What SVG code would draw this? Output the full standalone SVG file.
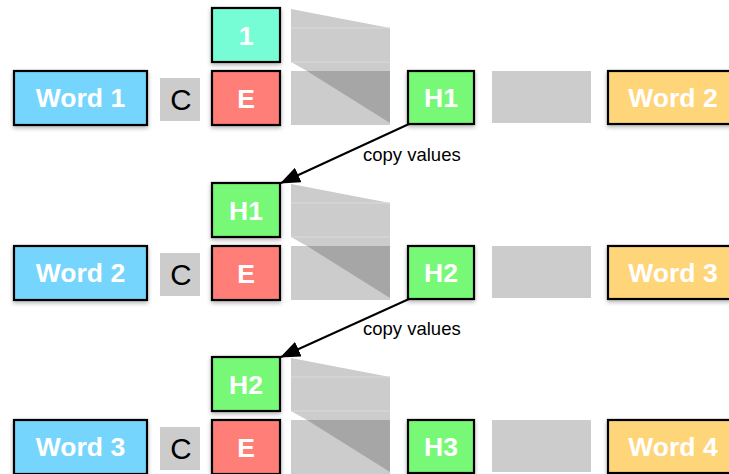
<svg xmlns="http://www.w3.org/2000/svg" width="729" height="474" viewBox="0 0 729 474">
<defs>
<filter id="sh" x="-20%" y="-20%" width="140%" height="150%">
<feDropShadow dx="0" dy="2" stdDeviation="2" flood-color="#000" flood-opacity="0.3"/>
</filter>
<marker id="ah2" markerWidth="20" markerHeight="16" refX="19" refY="8" orient="auto" markerUnits="userSpaceOnUse" viewBox="0 0 20 16">
<path d="M0,0 L20,8 L0,16 Z" fill="#000"/>
</marker>
</defs>
<style>
.box{stroke:#000;stroke-width:2.2;filter:url(#sh)}
.word{fill:#76d5fd}
.out{fill:#ffd57a}
.emb{fill:#ff7f78}
.hid{fill:#77f977}
.one{fill:#77fdd6}
.gray{fill:#cccccc}
.dark{fill:#a6a6a6}
.seam{stroke:#dadada;stroke-width:1}
.lbl{font-family:"Liberation Sans",Arial,sans-serif;font-weight:bold;font-size:26.5px;fill:#fff;text-anchor:middle}
.c{font-family:"Liberation Sans",Arial,sans-serif;font-size:29.5px;fill:#000;text-anchor:middle}
.cv{font-family:"Liberation Sans",Arial,sans-serif;font-size:18.5px;fill:#000}
.arr{stroke:#000;stroke-width:2;fill:none;marker-end:url(#ah2)}
</style>

<!-- Row 1 -->
<g id="word1"><rect class="box word" x="14" y="71" width="133" height="54"/><text class="lbl" x="80.5" y="107">Word 1</text></g>
<g id="c1"><rect class="gray" x="160" y="78" width="40" height="43"/><text class="c" x="181" y="109.5">C</text></g>
<g id="one1"><rect class="box one" x="212" y="8" width="68" height="54"/><text class="lbl" x="246" y="45">1</text></g>
<g id="e1"><rect class="box emb" x="212" y="71" width="68" height="54"/><text class="lbl" x="246" y="108">E</text></g>
<g id="mat1">
<polygon class="gray" points="291,9 390,28 390,71 307,71 291,62"/>
<line class="seam" x1="291" y1="28" x2="390" y2="28"/>
<line class="seam" x1="291" y1="62" x2="390" y2="62"/>
<rect class="gray" x="291" y="71" width="99" height="54"/>
<polygon class="dark" points="307,71 390,71 390,123"/>
</g>
<g id="h1"><rect class="box hid" x="408" y="71" width="66" height="53"/><text class="lbl" x="441" y="107">H1</text></g>
<g id="g1"><rect class="gray" x="492" y="71" width="99" height="52"/></g>
<g id="word2out"><rect class="box out" x="608" y="71" width="135" height="53"/><text class="lbl" x="673" y="107">Word 2</text></g>

<!-- Row 2 -->
<g id="word2"><rect class="box word" x="14" y="246" width="133" height="54"/><text class="lbl" x="80.5" y="282">Word 2</text></g>
<g id="c2"><rect class="gray" x="160" y="253" width="40" height="43"/><text class="c" x="181" y="284.5">C</text></g>
<g id="h1in"><rect class="box hid" x="212" y="183" width="68" height="54"/><text class="lbl" x="246" y="220">H1</text></g>
<g id="e2"><rect class="box emb" x="212" y="246" width="68" height="54"/><text class="lbl" x="246" y="283">E</text></g>
<g id="mat2">
<polygon class="gray" points="291,184 390,203 390,246 307,246 291,237"/>
<line class="seam" x1="291" y1="203" x2="390" y2="203"/>
<line class="seam" x1="291" y1="237" x2="390" y2="237"/>
<rect class="gray" x="291" y="246" width="99" height="54"/>
<polygon class="dark" points="307,246 390,246 390,298"/>
</g>
<g id="h2"><rect class="box hid" x="408" y="246" width="66" height="53"/><text class="lbl" x="441" y="282">H2</text></g>
<g id="g2"><rect class="gray" x="492" y="246" width="99" height="52"/></g>
<g id="word3out"><rect class="box out" x="608" y="246" width="135" height="53"/><text class="lbl" x="673" y="282">Word 3</text></g>

<!-- Row 3 -->
<g id="word3"><rect class="box word" x="14" y="420" width="133" height="54"/><text class="lbl" x="80.5" y="456">Word 3</text></g>
<g id="c3"><rect class="gray" x="160" y="427" width="40" height="43"/><text class="c" x="181" y="458.5">C</text></g>
<g id="h2in"><rect class="box hid" x="212" y="357" width="68" height="54"/><text class="lbl" x="246" y="394">H2</text></g>
<g id="e3"><rect class="box emb" x="212" y="420" width="68" height="54"/><text class="lbl" x="246" y="457">E</text></g>
<g id="mat3">
<polygon class="gray" points="291,358 390,377 390,420 307,420 291,411"/>
<line class="seam" x1="291" y1="377" x2="390" y2="377"/>
<line class="seam" x1="291" y1="411" x2="390" y2="411"/>
<rect class="gray" x="291" y="420" width="99" height="54"/>
<polygon class="dark" points="307,420 390,420 390,472"/>
</g>
<g id="h3"><rect class="box hid" x="408" y="420" width="66" height="53"/><text class="lbl" x="441" y="456">H3</text></g>
<g id="g3"><rect class="gray" x="492" y="420" width="99" height="52"/></g>
<g id="word4out"><rect class="box out" x="608" y="420" width="135" height="53"/><text class="lbl" x="673" y="456">Word 4</text></g>

<!-- Connectors -->
<g id="connectors">
<line class="arr" x1="409" y1="124" x2="281" y2="183"/>
<line class="arr" x1="409" y1="299" x2="281" y2="357"/>
<text class="cv" x="363" y="161">copy values</text>
<text class="cv" x="363" y="335">copy values</text>
</g>
</svg>
